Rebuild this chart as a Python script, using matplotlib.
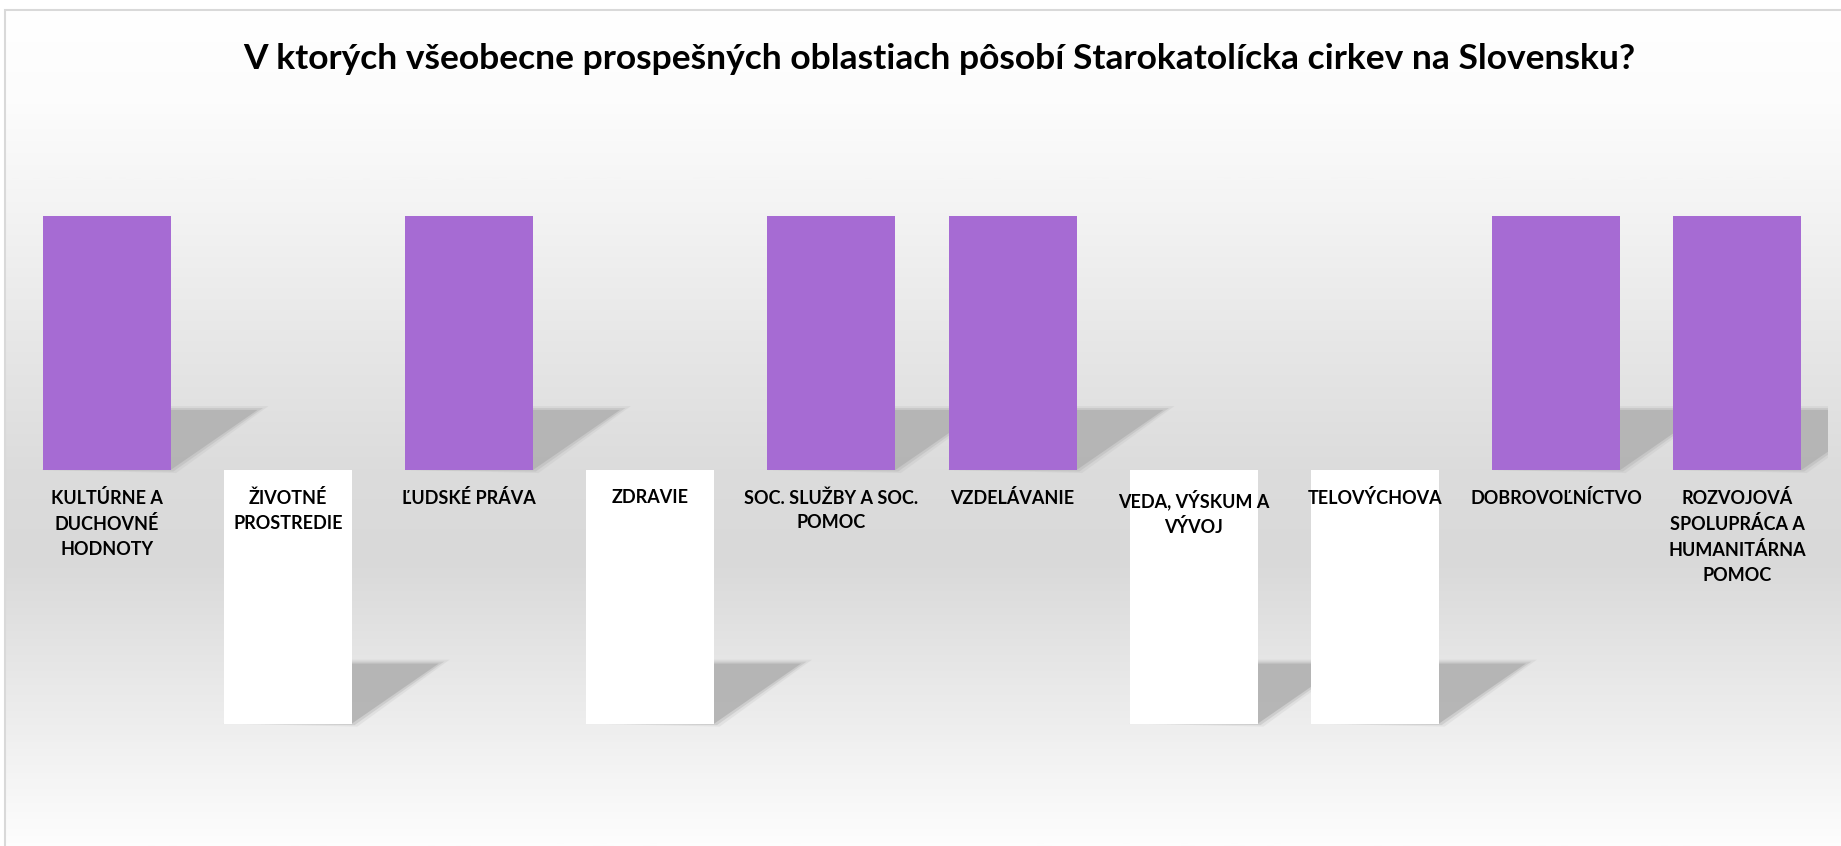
import matplotlib.pyplot as plt
import numpy as np
from matplotlib.colors import LinearSegmentedColormap
from matplotlib.patches import Polygon, Rectangle

title = "V ktorých všeobecne prospešných oblastiach pôsobí Starokatolícka cirkev na Slovensku?"
categories = [
    "KULTÚRNE A\nDUCHOVNÉ\nHODNOTY",
    "ŽIVOTNÉ\nPROSTREDIE",
    "ĽUDSKÉ PRÁVA",
    "ZDRAVIE",
    "SOC. SLUŽBY A SOC.\nPOMOC",
    "VZDELÁVANIE",
    "VEDA, VÝSKUM A\nVÝVOJ",
    "TELOVÝCHOVA",
    "DOBROVOĽNÍCTVO",
    "ROZVOJOVÁ\nSPOLUPRÁCA A\nHUMANITÁRNA\nPOMOC",
]
values = [1, -1, 1, -1, 1, 1, -1, -1, 1, 1]

PURPLE = "#a66bd3"
FONT = ["Lato", "DejaVu Sans"]
W, H, DPI = 1841, 846, 100

fig = plt.figure(figsize=(W / DPI, H / DPI), dpi=DPI)
fig.patch.set_facecolor("white")

# chart area gradient (Excel style light grey band)
bg = fig.add_axes([5 / W, 0, 1 - 5 / W, 1 - 10 / H], zorder=0)
grad = LinearSegmentedColormap.from_list(
    "bg",
    [(0.0, "#ffffff"), (0.11, "#fcfcfc"), (0.23, "#f4f4f4"), (0.41, "#e6e6e6"),
     (0.55, "#dcdcdc"), (0.66, "#d9d9d9"), (0.83, "#ebebeb"), (1.0, "#fdfdfd")],
)
bg.imshow(np.linspace(0, 1, 400).reshape(-1, 1), aspect="auto", cmap=grad,
          extent=[0, 1, 1, 0])
bg.set_xlim(0, 1)
bg.set_ylim(1, 0)
bg.axis("off")
fig.add_artist(Rectangle((5 / W, -0.1), 1.2, 1 - 10 / H + 0.1, transform=fig.transFigure,
                         fill=False, edgecolor="#d9d9d9", linewidth=1.5, zorder=1))

# plot area
ax = fig.add_axes([16 / W, 21 / H, 1812 / W, 710 / H], zorder=2)
ax.patch.set_alpha(0)
ax.set_xlim(-0.5, len(categories) - 0.5)
ax.set_ylim(-1.4, 1.4)
ax.axis("off")

x = np.arange(len(categories))
width = 0.707
colors = [PURPLE if v > 0 else "white" for v in values]

# soft perspective shadows at the lower end of each bar
skew, sh = 0.48, 0.237
for xi, v in zip(x, values):
    base = min(0, v)
    xl, xr = xi - width / 2, xi + width / 2
    for grow, alpha in [(0.03, 0.2), (0.015, 0.4), (0.0, 0.85)]:
        poly = Polygon(
            [(xl, base), (xr + grow, base - grow * 0.4),
             (xr + skew + grow * 2, base + sh + grow * 0.5),
             (xl + skew, base + sh + grow * 0.5)],
            closed=True, facecolor="#b2b2b2", edgecolor="none", alpha=alpha, zorder=1,
        )
        ax.add_patch(poly)

ax.bar(x, values, width=width, color=colors, zorder=3)

for xi, label in zip(x, categories):
    ax.annotate(label, (xi, 0), xytext=(0, -19), textcoords="offset pixels",
                ha="center", va="top", fontsize=13, fontweight="bold",
                family=FONT, linespacing=1.55, color="black", zorder=5)

fig.text(939 / W, 1 - 59 / H, title, ha="center", va="center", fontsize=25.5,
         fontweight="bold", family=FONT, color="black")

fig.savefig("out.png", dpi=DPI)
